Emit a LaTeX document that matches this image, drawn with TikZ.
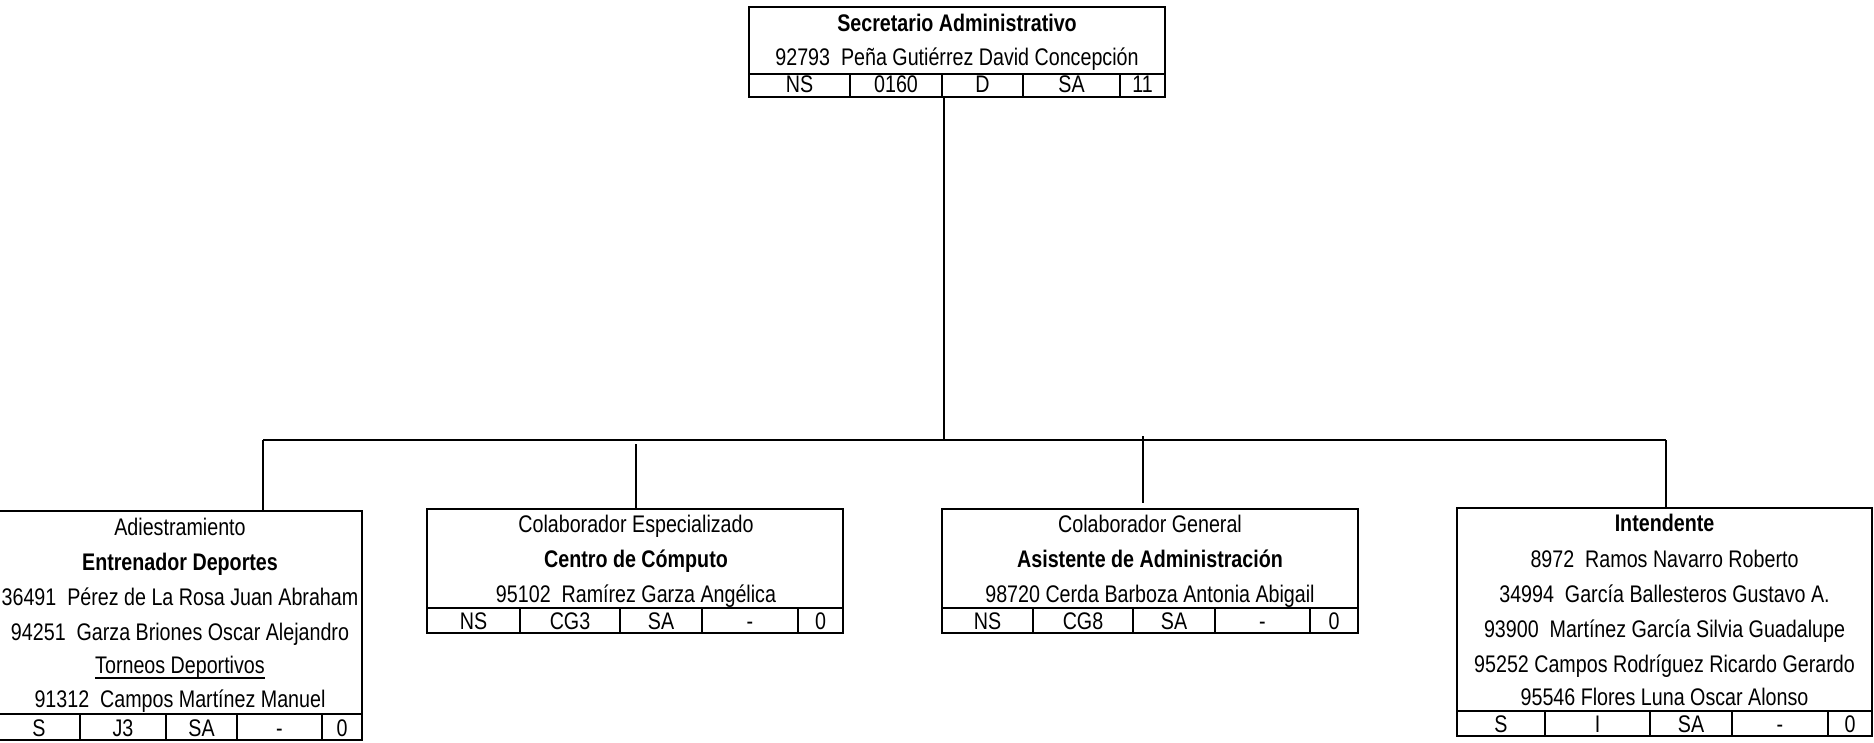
\documentclass[tikz,border=0pt]{standalone}
\usepackage{fontspec}
\setmainfont{Liberation Sans}[FakeStretch=0.82]
\begin{document}
\begin{tikzpicture}[x=1pt,y=-1pt,
  box/.style={draw, line width=2.4pt, inner sep=0pt, outer sep=0pt, anchor=north west},
  grid/.style={line width=2pt},
  conn/.style={line width=1.3pt},
  txt/.style={anchor=base, inner sep=0pt, font=\fontsize{24}{29}\selectfont},
  ]
\useasboundingbox (0,0) rectangle (1874,742);

% ---------- top box ----------
\node[box, minimum width=416pt, minimum height=90pt] (top) at (749,7) {};
\node[txt] (topA) at (957,31) {\bfseries Secretario Administrativo};
\node[txt] (topB) at (957,65) {92793\ \ Peña Gutiérrez David Concepción};
\draw[grid] (749,74) -- (1165,74);
\foreach \x in {850,942,1023,1120} \draw[grid] (\x,74) -- (\x,97);
\node[txt] (topc1) at (799.5,92) {NS};
\node[txt] (topc2) at (896,92) {0160};
\node[txt] (topc3) at (982.5,92) {D};
\node[txt] (topc4) at (1071.5,92) {SA};
\node[txt] (topc5) at (1142.5,92) {11};

% ---------- box 1 ----------
\node[box, minimum width=364pt, minimum height=229pt] (b1) at (-2,511) {};
\node[txt] (b1a) at (180,535) {Adiestramiento};
\node[txt] (b1b) at (180,570) {\bfseries Entrenador Deportes};
\node[txt] (b1c) at (180,605) {36491\ \ Pérez de La Rosa Juan Abraham};
\node[txt] (b1d) at (180,640) {94251\ \ Garza Briones Oscar Alejandro};
\node[txt] (b1e) at (180,673) {Torneos Deportivos};
\draw[line width=1.5pt] ([yshift=-5pt]b1e.base west) -- ([yshift=-5pt]b1e.base east);
\node[txt] (b1f) at (180,707) {91312\ \ Campos Martínez Manuel};
\draw[grid] (-2,714) -- (362,714);
\foreach \x in {80,166,237,322} \draw[grid] (\x,714) -- (\x,740);
\node[txt] (b1c1) at (39,736) {S};
\node[txt] (b1c2) at (123,736) {J3};
\node[txt] (b1c3) at (201.5,736) {SA};
\node[txt] (b1c4) at (279.5,736) {-};
\node[txt] (b1c5) at (342,736) {0};

% ---------- box 2 ----------
\node[box, minimum width=416pt, minimum height=124pt] (b2) at (427,509) {};
\node[txt] (b2a) at (636,532) {Colaborador Especializado};
\node[txt] (b2b) at (636,567) {\bfseries Centro de Cómputo};
\node[txt] (b2c) at (636,602) {95102\ \ Ramírez Garza Angélica};
\draw[grid] (427,608) -- (843,608);
\foreach \x in {520,620,702,798} \draw[grid] (\x,608) -- (\x,633);
\node[txt] (b2c1) at (473.5,629) {NS};
\node[txt] (b2c2) at (570,629) {CG3};
\node[txt] (b2c3) at (661,629) {SA};
\node[txt] (b2c4) at (750,629) {-};
\node[txt] (b2c5) at (820.5,629) {0};

% ---------- box 3 ----------
\node[box, minimum width=416pt, minimum height=124pt] (b3) at (942,509) {};
\node[txt] (b3a) at (1150,532) {Colaborador General};
\node[txt] (b3b) at (1150,567) {\bfseries Asistente de Administración};
\node[txt] (b3c) at (1150,602) {98720 Cerda Barboza Antonia Abigail};
\draw[grid] (942,608) -- (1358,608);
\foreach \x in {1033,1133,1215,1310} \draw[grid] (\x,608) -- (\x,633);
\node[txt] (b3c1) at (987.5,629) {NS};
\node[txt] (b3c2) at (1083,629) {CG8};
\node[txt] (b3c3) at (1174,629) {SA};
\node[txt] (b3c4) at (1262.5,629) {-};
\node[txt] (b3c5) at (1334,629) {0};

% ---------- box 4 ----------
\node[box, minimum width=415pt, minimum height=228pt] (b4) at (1457,508) {};
\node[txt] (b4a) at (1664.5,531) {\bfseries Intendente};
\node[txt] (b4b) at (1664.5,567) {8972\ \ Ramos Navarro Roberto};
\node[txt] (b4c) at (1664.5,602) {34994\ \ García Ballesteros Gustavo A.};
\node[txt] (b4d) at (1664.5,637) {93900\ \ Martínez García Silvia Guadalupe};
\node[txt] (b4e) at (1664.5,672) {95252 Campos Rodríguez Ricardo Gerardo};
\node[txt] (b4f) at (1664.5,705) {95546 Flores Luna Oscar Alonso};
\draw[grid] (1457,711) -- (1872,711);
\foreach \x in {1545,1650,1732,1828} \draw[grid] (\x,711) -- (\x,736);
\node[txt] (b4c1) at (1501,732) {S};
\node[txt] (b4c2) at (1597.5,732) {I};
\node[txt] (b4c3) at (1691,732) {SA};
\node[txt] (b4c4) at (1780,732) {-};
\node[txt] (b4c5) at (1850,732) {0};

% ---------- connectors ----------
\coordinate (trunk) at (944,440);
\coordinate (j1) at (263,440);
\coordinate (j4) at (1666,440);
\coordinate (d2) at (636,444);
\coordinate (d3a) at (1143,436);
\coordinate (d3b) at (1143,503);
\draw[conn] (top.south -| trunk) -- (trunk);
\draw[conn] (j1) -- (j4);
\draw[conn] (j1) -- (b1.north -| j1);
\draw[conn] (d2) -- (b2.north -| d2);
\draw[conn] (d3a) -- (d3b);
\draw[conn] (j4) -- (b4.north -| j4);
\end{tikzpicture}
\end{document}
